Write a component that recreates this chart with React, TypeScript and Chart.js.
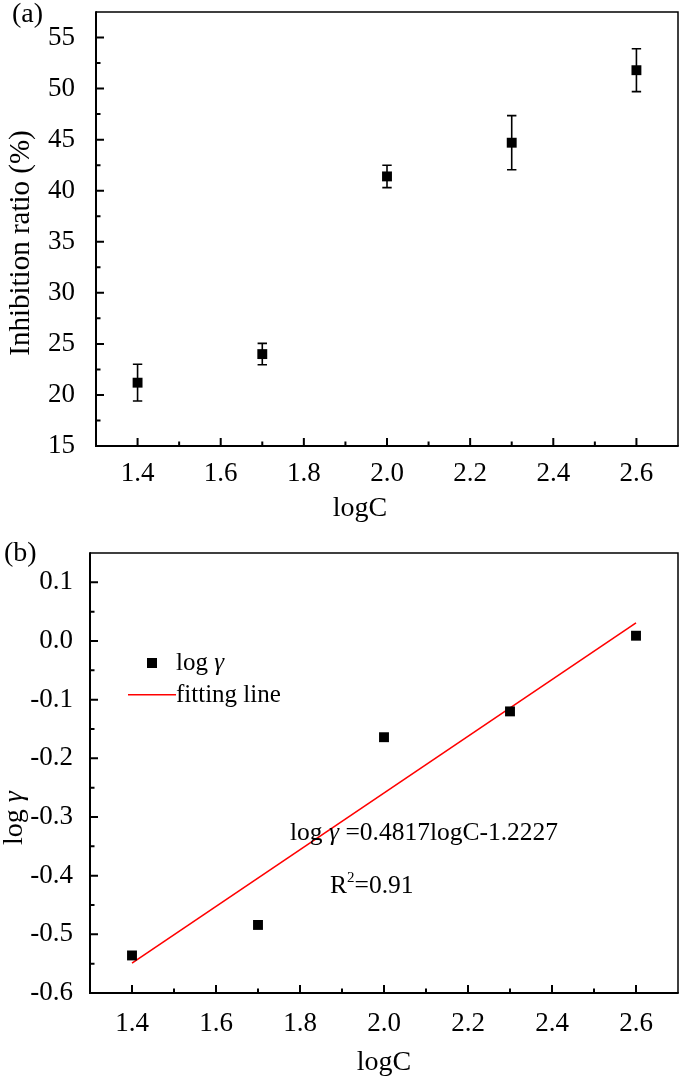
import React, { useEffect, useRef } from "react";
import { Chart, registerables } from "chart.js";

Chart.register(...registerables);

// ---------- data ----------
const logC = [1.4, 1.7, 2.0, 2.3, 2.6];
const inhibitionRatio = [21.2, 24.0, 41.4, 44.7, 51.8];
const inhibitionError = [1.8, 1.05, 1.1, 2.65, 2.1];
const logGamma = [-0.536, -0.484, -0.164, -0.12, 0.009];
const fitX = [1.4, 2.6];
const fitY = [-0.549, 0.031];

const xMajorTicks = [1.4, 1.6, 1.8, 2.0, 2.2, 2.4, 2.6];
const xMinorTicks = [1.5, 1.7, 1.9, 2.1, 2.3, 2.5];
const yMajorTicksA = [15, 20, 25, 30, 35, 40, 45, 50, 55];
const yMinorTicksA = [17.5, 22.5, 27.5, 32.5, 37.5, 42.5, 47.5, 52.5];
const yMajorTicksB = [-0.6, -0.5, -0.4, -0.3, -0.2, -0.1, 0.0, 0.1];
const yMinorTicksB = [-0.55, -0.45, -0.35, -0.25, -0.15, -0.05, 0.05];

const panelA = "(a)";
const panelB = "(b)";
const xTitle = "logC";
const yTitleA = "Inhibition ratio (%)";
const seriesLabelB = "log γ";
const fitLabel = "fitting line";
const equationText = " =0.4817logC-1.2227";
const r2Value = "=0.91";

const FONT = "'Liberation Serif', 'Times New Roman', Times, serif";
const TICK_SIZE = 27;

type Part = { t: string; italic?: boolean; size?: number; dy?: number };

function drawRich(ctx: CanvasRenderingContext2D, parts: Part[], x: number, y: number, baseSize: number, align: "left" | "center") {
  const fontOf = (p: Part) => `${p.italic ? "italic " : ""}${p.size || baseSize}px ${FONT}`;
  let total = 0;
  parts.forEach((p) => {
    ctx.font = fontOf(p);
    total += ctx.measureText(p.t).width;
  });
  let cx = align === "center" ? x - total / 2 : x;
  ctx.textAlign = "left";
  parts.forEach((p) => {
    ctx.font = fontOf(p);
    ctx.fillText(p.t, cx, y + (p.dy || 0));
    cx += ctx.measureText(p.t).width;
  });
}

function drawFrame(chart: any, xMaj: number[], xMin: number[], yMaj: number[], yMin: number[]) {
  const { ctx, chartArea: a, scales } = chart;
  const x = scales.x;
  const y = scales.y;
  ctx.save();
  ctx.strokeStyle = "#000";
  ctx.lineWidth = 1.5;
  ctx.beginPath();
  ctx.moveTo(a.left, a.top);
  ctx.lineTo(a.right, a.top);
  ctx.lineTo(a.right, a.bottom);
  ctx.stroke();
  ctx.lineWidth = 2;
  ctx.beginPath();
  ctx.moveTo(a.left, a.top - 0.75);
  ctx.lineTo(a.left, a.bottom);
  ctx.lineTo(a.right + 0.75, a.bottom);
  ctx.stroke();
  ctx.beginPath();
  xMaj.forEach((v) => {
    const p = x.getPixelForValue(v);
    ctx.moveTo(p, a.bottom);
    ctx.lineTo(p, a.bottom - 8);
  });
  xMin.forEach((v) => {
    const p = x.getPixelForValue(v);
    ctx.moveTo(p, a.bottom);
    ctx.lineTo(p, a.bottom - 4.5);
  });
  yMaj.forEach((v) => {
    const p = y.getPixelForValue(v);
    ctx.moveTo(a.left, p);
    ctx.lineTo(a.left + 8, p);
  });
  yMin.forEach((v) => {
    const p = y.getPixelForValue(v);
    ctx.moveTo(a.left, p);
    ctx.lineTo(a.left + 4.5, p);
  });
  ctx.stroke();
  ctx.restore();
}

const frameA = {
  id: "frameA",
  afterDraw(chart: any) {
    drawFrame(chart, xMajorTicks, xMinorTicks, yMajorTicksA, yMinorTicksA);
  },
};

const frameB = {
  id: "frameB",
  afterDraw(chart: any) {
    drawFrame(chart, xMajorTicks, xMinorTicks, yMajorTicksB, yMinorTicksB);
  },
};

const errorBars = {
  id: "errorBars",
  beforeDatasetsDraw(chart: any) {
    const { ctx, scales } = chart;
    const x = scales.x;
    const y = scales.y;
    ctx.save();
    ctx.strokeStyle = "#000";
    ctx.lineWidth = 1.6;
    logC.forEach((c, i) => {
      const px = x.getPixelForValue(c);
      const hi = y.getPixelForValue(inhibitionRatio[i] + inhibitionError[i]);
      const lo = y.getPixelForValue(inhibitionRatio[i] - inhibitionError[i]);
      ctx.beginPath();
      ctx.moveTo(px, hi);
      ctx.lineTo(px, lo);
      ctx.moveTo(px - 4.7, hi);
      ctx.lineTo(px + 4.7, hi);
      ctx.moveTo(px - 4.7, lo);
      ctx.lineTo(px + 4.7, lo);
      ctx.stroke();
    });
    ctx.restore();
  },
};

const textsA = {
  id: "textsA",
  afterDraw(chart: any) {
    const { ctx } = chart;
    ctx.save();
    ctx.fillStyle = "#000";
    ctx.font = `28px ${FONT}`;
    ctx.textAlign = "left";
    ctx.textBaseline = "middle";
    ctx.fillText(panelA, 12, 15);
    ctx.textAlign = "center";
    ctx.textBaseline = "alphabetic";
    ctx.fillText(xTitle, 360, 516);
    ctx.font = `29px ${FONT}`;
    ctx.translate(29, 243);
    ctx.rotate(-Math.PI / 2);
    ctx.fillText(yTitleA, 0, 0);
    ctx.restore();
  },
};

const textsB = {
  id: "textsB",
  afterDraw(chart: any) {
    const { ctx, chartArea: a } = chart;
    const ds = chart.data.datasets;
    ctx.save();
    ctx.fillStyle = "#000";
    ctx.textBaseline = "middle";
    ctx.font = `28px ${FONT}`;
    ctx.textAlign = "left";
    ctx.fillText(panelB, 4, 24);
    ctx.textBaseline = "alphabetic";
    ctx.textAlign = "center";
    ctx.fillText(xTitle, (a.left + a.right) / 2, 540);

    // legend
    ctx.fillStyle = ds[0].backgroundColor;
    ctx.fillRect(a.left + 62 - 5, a.top + 110 - 5, 10, 10);
    ctx.fillStyle = "#000";
    drawRich(ctx, [{ t: "log " }, { t: "γ", italic: true }], a.left + 86, a.top + 117.4, 25, "left");
    ctx.strokeStyle = ds[1].borderColor;
    ctx.lineWidth = 1.6;
    ctx.beginPath();
    ctx.moveTo(a.left + 38, a.top + 141.7);
    ctx.lineTo(a.left + 86, a.top + 141.7);
    ctx.stroke();
    ctx.font = `25px ${FONT}`;
    ctx.textAlign = "left";
    ctx.fillText(fitLabel, a.left + 86, a.top + 148.7);

    // annotations
    drawRich(ctx, [{ t: "log " }, { t: "γ", italic: true }, { t: equationText }], 290, 310, 25.5, "left");
    drawRich(ctx, [{ t: "R" }, { t: "2", size: 15, dy: -11 }, { t: r2Value }], 330, 363, 25.5, "left");

    // y title
    ctx.translate(22, 288);
    ctx.rotate(-Math.PI / 2);
    drawRich(ctx, [{ t: "log " }, { t: "γ", italic: true }], 0, 0, 28, "center");
    ctx.restore();
  },
};

function tickFont(size: number) {
  return { family: FONT, size };
}

function zeroPad(s: any) {
  s.paddingTop = 0;
  s.paddingBottom = 0;
  s.paddingLeft = 0;
  s.paddingRight = 0;
}

function ChartA() {
  const ref = useRef<HTMLCanvasElement>(null);
  useEffect(() => {
    const chart = new Chart(ref.current as HTMLCanvasElement, {
      type: "scatter",
      data: {
        datasets: [
          {
            label: "Inhibition ratio",
            data: logC.map((c, i) => ({ x: c, y: inhibitionRatio[i] })),
            pointStyle: "rect",
            pointRadius: 7,
            pointHoverRadius: 7,
            backgroundColor: "#000",
            borderColor: "#000",
            borderWidth: 0,
          },
        ],
      },
      options: {
        animation: false,
        responsive: false,
        maintainAspectRatio: false,
        events: [],
        layout: { padding: { left: 0, right: 2, top: 12, bottom: 0 } },
        plugins: { legend: { display: false }, tooltip: { enabled: false } },
        scales: {
          x: {
            type: "linear",
            min: 1.3,
            max: 2.7,
            grid: { display: false },
            border: { display: false },
            afterBuildTicks: (s: any) => {
              s.ticks = xMajorTicks.map((v) => ({ value: v }));
            },
            afterFit: (s: any) => {
              s.height = 84;
              zeroPad(s);
            },
            ticks: {
              color: "#000",
              font: tickFont(TICK_SIZE),
              padding: 4,
              maxRotation: 0,
              autoSkip: false,
              callback: (v: any) => Number(v).toFixed(1),
            },
          },
          y: {
            type: "linear",
            min: 15,
            max: 57.5,
            grid: { display: false },
            border: { display: false },
            afterBuildTicks: (s: any) => {
              s.ticks = yMajorTicksA.map((v) => ({ value: v }));
            },
            afterFit: (s: any) => {
              s.width = 96;
              zeroPad(s);
            },
            ticks: {
              color: "#000",
              font: tickFont(TICK_SIZE),
              padding: 13,
              autoSkip: false,
              callback: (v: any) => String(v),
            },
          },
        },
      },
      plugins: [errorBars, frameA, textsA],
    });
    return () => chart.destroy();
  }, []);
  return <canvas ref={ref} width={685} height={530} style={{ display: "block", width: 685, height: 530 }} />;
}

function ChartB() {
  const ref = useRef<HTMLCanvasElement>(null);
  useEffect(() => {
    const chart = new Chart(ref.current as HTMLCanvasElement, {
      type: "scatter",
      data: {
        datasets: [
          {
            label: seriesLabelB,
            data: logC.map((c, i) => ({ x: c, y: logGamma[i] })),
            pointStyle: "rect",
            pointRadius: 7,
            pointHoverRadius: 7,
            backgroundColor: "#000",
            borderColor: "#000",
            borderWidth: 0,
          },
          {
            label: fitLabel,
            data: fitX.map((c, i) => ({ x: c, y: fitY[i] })),
            showLine: true,
            pointRadius: 0,
            borderColor: "#ff0000",
            backgroundColor: "#ff0000",
            borderWidth: 1.6,
          },
        ],
      },
      options: {
        animation: false,
        responsive: false,
        maintainAspectRatio: false,
        events: [],
        layout: { padding: { left: 0, right: 2, top: 23, bottom: 0 } },
        plugins: { legend: { display: false }, tooltip: { enabled: false } },
        scales: {
          x: {
            type: "linear",
            min: 1.3,
            max: 2.7,
            grid: { display: false },
            border: { display: false },
            afterBuildTicks: (s: any) => {
              s.ticks = xMajorTicks.map((v) => ({ value: v }));
            },
            afterFit: (s: any) => {
              s.height = 84;
              zeroPad(s);
            },
            ticks: {
              color: "#000",
              font: tickFont(TICK_SIZE),
              padding: 7,
              maxRotation: 0,
              autoSkip: false,
              callback: (v: any) => Number(v).toFixed(1),
            },
          },
          y: {
            type: "linear",
            min: -0.6,
            max: 0.15,
            grid: { display: false },
            border: { display: false },
            afterBuildTicks: (s: any) => {
              s.ticks = yMajorTicksB.map((v) => ({ value: v }));
            },
            afterFit: (s: any) => {
              s.width = 90;
              zeroPad(s);
            },
            ticks: {
              color: "#000",
              font: tickFont(TICK_SIZE),
              padding: 9,
              autoSkip: false,
              callback: (v: any) => Number(v).toFixed(1),
            },
          },
        },
      },
      plugins: [frameB, textsB],
    });
    return () => chart.destroy();
  }, []);
  return <canvas ref={ref} width={685} height={547} style={{ display: "block", width: 685, height: 547 }} />;
}

export default function App() {
  return (
    <div style={{ position: "absolute", left: 0, top: 0, width: 685, height: 1077, background: "#fff" }}>
      <ChartA />
      <ChartB />
    </div>
  );
}
